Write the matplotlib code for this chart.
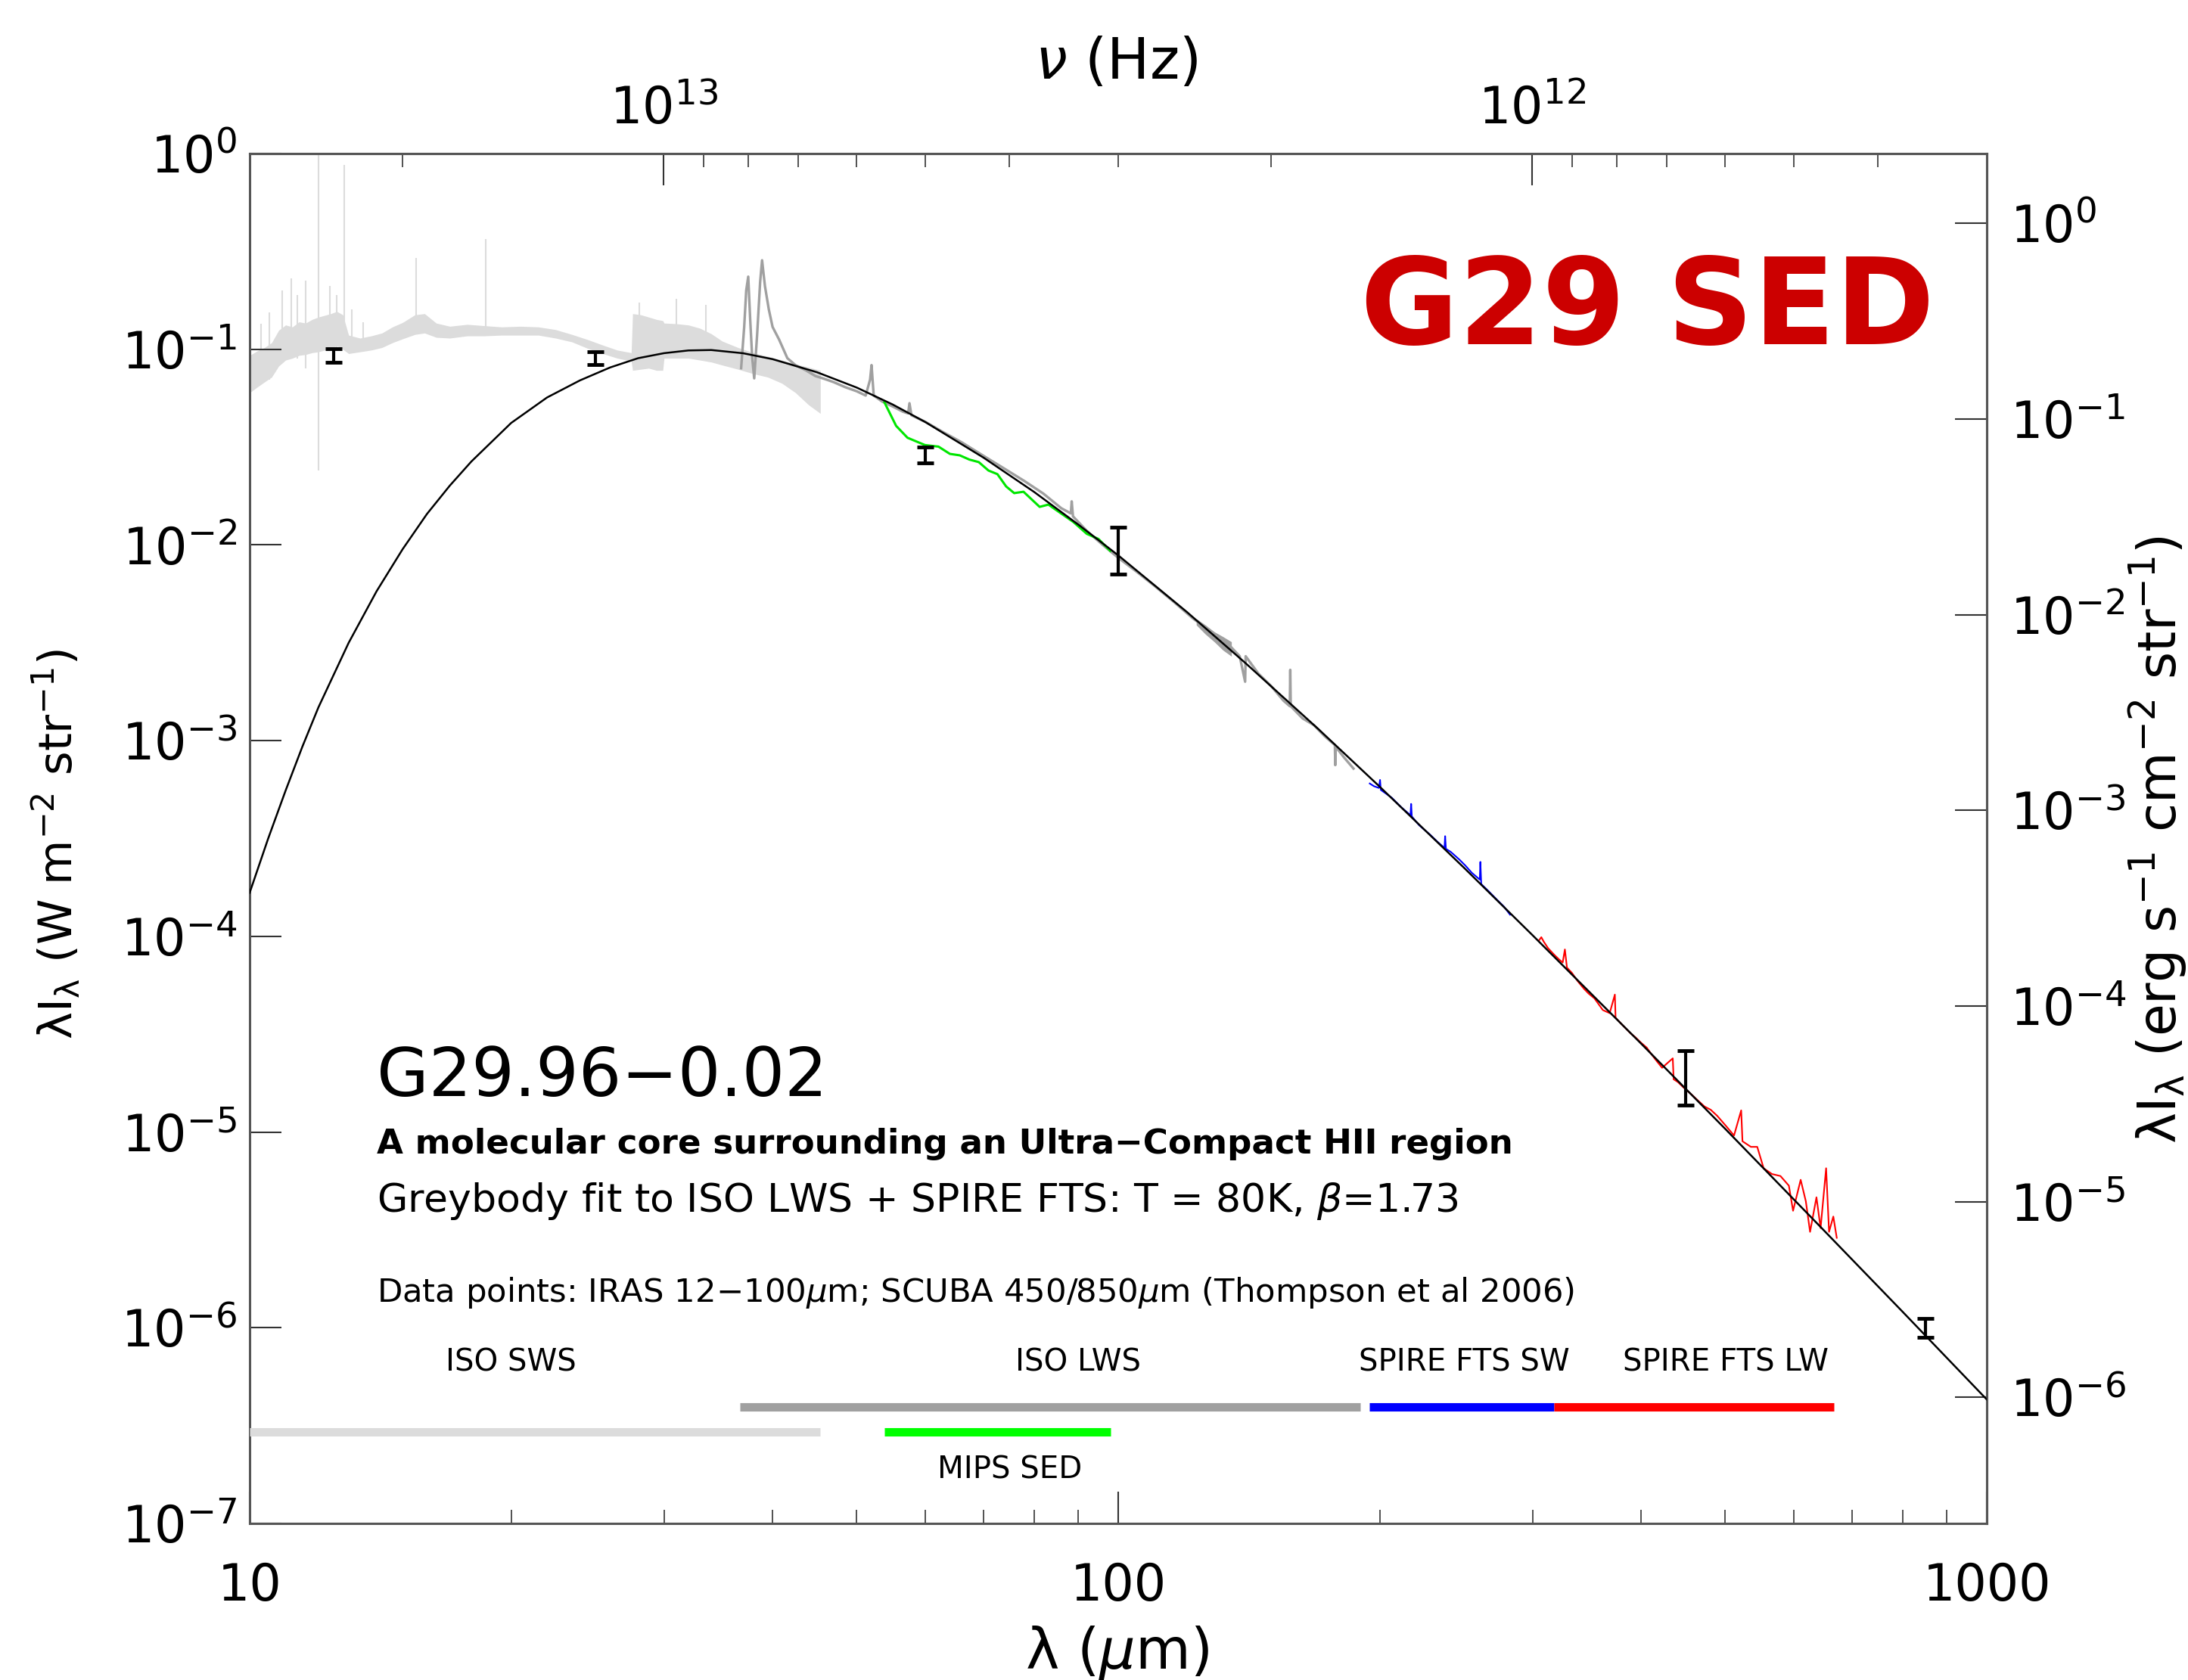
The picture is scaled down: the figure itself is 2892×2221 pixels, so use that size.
import numpy as np
import matplotlib
matplotlib.use('Agg')
import matplotlib.pyplot as plt
import matplotlib.ticker as ticker

plt.rcParams['font.family'] = 'DejaVu Sans'
plt.rcParams['mathtext.fontset'] = 'dejavusans'

# --- DATA ---
# greybody fit, T = 80K, beta = 1.73  (lambda in um, lambda*I_lambda in W m-2 sr-1)
FIT_WAVE = [10, 10.5, 11, 11.5, 12, 13, 14, 15, 16, 17, 18, 20, 22, 24, 26, 28, 30, 32, 34, 37,
            40, 45, 50, 55, 60, 70, 80, 90, 100, 120, 140, 170, 200, 250, 300, 400, 500, 650, 800, 1000]
FIT_FLUX = [1.67e-4, 3.15e-4, 5.56e-4, 9.32e-4, 1.48e-3, 3.16e-3, 5.80e-3, 9.51e-3, 1.44e-2, 2.01e-2,
            2.67e-2, 4.20e-2, 5.67e-2, 6.93e-2, 8.07e-2, 9.00e-2, 9.55e-2, 9.86e-2, 9.91e-2, 9.54e-2,
            8.90e-2, 7.63e-2, 6.37e-2, 5.22e-2, 4.24e-2, 2.79e-2, 1.867e-2, 1.269e-2, 8.85e-3, 4.54e-3,
            2.50e-3, 1.146e-3, 5.82e-4, 2.245e-4, 1.0125e-4, 2.83e-5, 1.037e-5, 3.13e-6, 1.207e-6, 4.30e-7]

# ISO SWS spectrum, drawn as a noisy band (upper / lower envelope)
SWS_WAVE = [10.0, 10.2, 10.4, 10.6, 10.8, 11.0, 11.2, 11.4, 11.6, 11.8, 12.0, 12.2, 12.4, 12.6, 12.8,
            13.0, 13.4, 13.8, 14.2, 14.6, 15.0, 15.5, 15.9, 16.4, 17.0, 17.8, 18.6, 19.5, 20.5, 21.5,
            22.5, 23.5, 24.5, 25.5, 26.5, 27.5, 27.6, 28.2, 28.8, 29.4, 29.9, 30.0, 31.0, 32.0, 33.0,
            34.0, 35.0, 36.5, 38.0, 39.5, 41.0, 42.5, 44.0, 45.4]
SWS_HIGH = [0.093, 0.098, 0.102, 0.108, 0.125, 0.133, 0.130, 0.138, 0.136, 0.142, 0.146, 0.149, 0.152,
            0.156, 0.150, 0.118, 0.114, 0.117, 0.121, 0.130, 0.137, 0.150, 0.152, 0.136, 0.131, 0.134,
            0.132, 0.130, 0.131, 0.130, 0.126, 0.119, 0.112, 0.105, 0.099, 0.096, 0.152, 0.150, 0.146,
            0.142, 0.140, 0.136, 0.135, 0.133, 0.128, 0.120, 0.110, 0.102, 0.096, 0.092, 0.088, 0.084,
            0.081, 0.078]
SWS_LOW = [0.060, 0.064, 0.068, 0.072, 0.082, 0.088, 0.090, 0.093, 0.094, 0.096, 0.097, 0.099, 0.101,
           0.104, 0.100, 0.095, 0.097, 0.099, 0.102, 0.108, 0.113, 0.119, 0.121, 0.115, 0.114, 0.117,
           0.117, 0.118, 0.118, 0.118, 0.114, 0.109, 0.101, 0.095, 0.090, 0.087, 0.078, 0.079, 0.080,
           0.078, 0.078, 0.090, 0.090, 0.090, 0.088, 0.086, 0.083, 0.079, 0.075, 0.072, 0.067, 0.060,
           0.052, 0.047]
# lines and glitches in the SWS spectrum
SWS_LINE_WAVE = [10.3, 10.53, 10.9, 11.16, 11.35, 11.61, 12.0, 12.37, 12.6, 12.85, 13.1, 13.52,
                 15.56, 18.71, 28.1, 31.0, 33.5]
SWS_LINE_TOP = [0.135, 0.154, 0.20, 0.23, 0.19, 0.224, 1.0, 0.21, 0.19, 0.875, 0.16, 0.137,
                0.292, 0.365, 0.173, 0.181, 0.169]
SWS_LINE_LOW = [0.07, 0.07, 0.085, 0.09, 0.09, 0.08, 0.024, 0.10, 0.10, 0.10, 0.095, 0.10,
                0.12, 0.12, 0.09, 0.09, 0.09]

# ISO LWS spectrum
LWS_WAVE = [36.8, 37.1, 37.3, 37.5, 37.7, 37.9, 38.1, 38.4, 38.7, 38.9, 39.2, 39.6, 40.0, 40.7, 41.6,
            42.5, 43.7, 44.8, 45.7, 47.0, 48.5, 50.0, 51.2, 51.8, 52.0, 52.3, 53.5, 55.0, 56.5, 57.3,
            57.5, 57.8, 60.0, 63.0, 66.0, 70.0, 74.0, 78.0, 82.0, 86.0, 88.2, 88.4, 88.7, 92.0, 96.0,
            100.0, 105.0, 110.0, 116.0, 122.0, 128.0, 134.0, 138.0, 140.0, 140.2, 145.0, 150.0, 155.0,
            157.6, 157.8, 158.0, 163.0, 168.0, 173.0, 177.6, 177.8, 178.0, 182.0, 186.6]
LWS_FLUX = [0.080, 0.13, 0.20, 0.235, 0.14, 0.090, 0.071, 0.12, 0.22, 0.285, 0.21, 0.16, 0.13, 0.112,
            0.090, 0.083, 0.078, 0.073, 0.071, 0.068, 0.064, 0.061, 0.058, 0.070, 0.083, 0.058, 0.054,
            0.051, 0.048, 0.047, 0.053, 0.046, 0.0425, 0.0375, 0.0335, 0.0285, 0.0245, 0.0212, 0.0183,
            0.0154, 0.0145, 0.0167, 0.0140, 0.0118, 0.0100, 0.0086, 0.0073, 0.0062, 0.0051, 0.0042,
            0.0036, 0.0031, 0.0027, 0.0020, 0.0027, 0.0022, 0.0019, 0.0016, 0.0015, 0.0023, 0.0015,
            0.0013, 0.0012, 0.00105, 0.00095, 0.00075, 0.00093, 0.00082, 0.00072]
LWS_BLOCK_WAVE = [123.0, 126.0, 129.0, 132.0, 135.0]
LWS_BLOCK_HIGH = [0.0042, 0.0039, 0.0036, 0.0034, 0.0032]
LWS_BLOCK_LOW = [0.0039, 0.0035, 0.0032, 0.0029, 0.0027]

# Spitzer MIPS SED
MIPS_WAVE = [53.8, 55.5, 57.2, 59.9, 62.1, 64.0, 65.7, 67.4, 69.1, 70.9, 72.6, 74.3, 75.9, 77.8,
             81.2, 83.1, 88.8, 92.0, 94.9, 97.9]
MIPS_FLUX = [0.0536, 0.0406, 0.0353, 0.0324, 0.0318, 0.0292, 0.0287, 0.0273, 0.0265, 0.0240, 0.0230,
             0.0199, 0.0184, 0.0187, 0.01565, 0.01608, 0.0131, 0.0114, 0.01073, 0.00933]

# SPIRE FTS short-wavelength array
SW_WAVE = [194.8, 197.0, 199.6, 200.2, 200.6, 206.5, 212.0, 217.0, 217.4, 217.8, 222.0, 228.4, 233.0,
           237.5, 237.9, 238.4, 241.5, 247.0, 251.0, 255.4, 260.8, 261.2, 261.8, 267.0, 273.3, 278.0,
           282.6]
SW_FLUX = [6.04e-4, 5.85e-4, 5.73e-4, 6.3e-4, 5.6e-4, 5.11e-4, 4.55e-4, 4.16e-4, 4.75e-4, 4.1e-4,
           3.7e-4, 3.32e-4, 3.05e-4, 2.83e-4, 3.25e-4, 2.8e-4, 2.70e-4, 2.47e-4, 2.3e-4, 2.11e-4,
           1.95e-4, 2.4e-4, 1.85e-4, 1.7e-4, 1.53e-4, 1.42e-4, 1.29e-4]

# SPIRE FTS long-wavelength array
LW_WAVE = [305.0, 307.0, 309.0, 312.6, 317.8, 322.0, 324.9, 326.8, 328.6, 333.0, 338.0, 343.7, 348.0,
           353.4, 361.4, 368.0, 373.1, 373.8, 380.0, 388.8, 394.0, 399.9, 406.0, 411.3, 417.0, 422.9,
           435.0, 436.0, 441.0, 447.5, 457.6, 465.0, 473.2, 481.0, 489.4, 500.4, 511.7, 521.5, 523.3,
           535.1, 544.2, 553.5, 565.9, 578.7, 591.8, 598.4, 610.6, 619.0, 626.0, 636.7, 643.7, 653.2,
           658.3, 665.8, 671.9]
LW_FLUX = [9.51e-5, 9.9e-5, 9.39e-5, 8.69e-5, 8.04e-5, 7.6e-5, 7.35e-5, 8.57e-5, 6.92e-5, 6.5e-5,
           5.91e-5, 5.40e-5, 5.1e-5, 4.82e-5, 4.20e-5, 4.05e-5, 5.04e-5, 3.84e-5, 3.55e-5, 3.20e-5,
           3.05e-5, 2.86e-5, 2.7e-5, 2.49e-5, 2.3e-5, 2.13e-5, 2.38e-5, 1.86e-5, 1.8e-5, 1.69e-5,
           1.55e-5, 1.45e-5, 1.35e-5, 1.3e-5, 1.21e-5, 1.08e-5, 9.6e-6, 1.29e-5, 8.97e-6, 8.4e-6,
           8.4e-6, 6.53e-6, 6.1e-6, 5.96e-6, 5.32e-6, 3.96e-6, 5.7e-6, 4.43e-6, 3.09e-6, 4.64e-6,
           3.23e-6, 6.53e-6, 3.09e-6, 3.70e-6, 2.88e-6]

# photometry: IRAS 12-100um, SCUBA 450/850um
PHOT_WAVE = [12.5, 25.0, 60.0, 100.0, 450.0, 850.0]
PHOT_FLUX = [0.0929, 0.0900, 0.0289, 0.00935, 1.89e-5, 1.0e-6]
PHOT_LOW = [0.0857, 0.0835, 0.0262, 0.0071, 1.37e-5, 8.9e-7]
PHOT_HIGH = [0.1007, 0.0970, 0.0316, 0.01232, 2.60e-5, 1.12e-6]

# wavelength coverage of each instrument
BAND_NAMES = ['ISO SWS', 'ISO LWS', 'MIPS SED', 'SPIRE FTS SW', 'SPIRE FTS LW']
BAND_START = [10.0, 36.7, 53.8, 194.5, 317.6]
BAND_END = [45.4, 189.9, 98.0, 317.6, 667.0]

X_TICKS = [10, 100, 1000]
X_TICK_LABELS = ['10', '100', '1000']
Y_TICKS = [1e0, 1e-1, 1e-2, 1e-3, 1e-4, 1e-5, 1e-6, 1e-7]
NU_TICKS = [1e12, 1e13]
NU_MINOR = [3e11, 4e11, 5e11, 6e11, 7e11, 8e11, 9e11, 2e12, 3e12, 4e12, 5e12, 6e12, 7e12, 8e12,
            9e12, 2e13, 3e13]
RIGHT_TICKS = [1e0, 1e-1, 1e-2, 1e-3, 1e-4, 1e-5, 1e-6]
RIGHT_SCALE = 2.27   # offset of the right-hand axis as drawn in the reference
C_UM_HZ = 2.998e14   # nu [Hz] = c / lambda[um]

# --- FIGURE ---
W, H = 2892, 2221
fig = plt.figure(figsize=(W / 100, H / 100), dpi=100)
ax = fig.add_axes([330 / W, 1 - 2014 / H, 2296 / W, 1811 / H])
ax.set_xscale('log')
ax.set_yscale('log')
ax.set_xlim(10, 1000)
ax.set_ylim(1e-7, 1e0)

GREY_L = '#DCDCDC'
GREY_D = '#A0A0A0'

# spectra
ax.fill_between(SWS_WAVE, SWS_LOW, SWS_HIGH, color=GREY_L, lw=0, zorder=1)
ax.vlines(SWS_LINE_WAVE, SWS_LINE_LOW, SWS_LINE_TOP, color=GREY_L, lw=1.5, zorder=1)
ax.fill_between(LWS_BLOCK_WAVE, LWS_BLOCK_LOW, LWS_BLOCK_HIGH, color=GREY_D, lw=0, zorder=2)
ax.plot(LWS_WAVE, LWS_FLUX, color=GREY_D, lw=2.4, zorder=2)
ax.plot(MIPS_WAVE, MIPS_FLUX, color='#00E600', lw=2.2, zorder=3)
ax.plot(SW_WAVE, SW_FLUX, color='#0000FF', lw=1.5, zorder=3)
ax.plot(LW_WAVE, LW_FLUX, color='#FF0000', lw=1.5, zorder=3)

# greybody fit
ax.plot(FIT_WAVE, FIT_FLUX, color='black', lw=1.8, zorder=4)

# photometry with error bars
flux = np.array(PHOT_FLUX)
yerr = [flux - np.array(PHOT_LOW), np.array(PHOT_HIGH) - flux]
ax.errorbar(PHOT_WAVE, flux, yerr=yerr, fmt='none', ecolor='black',
            elinewidth=3, capsize=8, capthick=3.5, zorder=5)

# coverage bars along the bottom
bar_colors = [GREY_L, GREY_D, '#00FF00', '#0000FF', '#FF0000']
bar_rows = [2.93e-7, 3.94e-7, 2.93e-7, 3.94e-7, 3.94e-7]
for x0, x1, yb, c in zip(BAND_START, BAND_END, bar_rows, bar_colors):
    ax.plot([x0, x1], [yb, yb], color=c, lw=8, solid_capstyle='butt', zorder=3)

label_pos = [(20.0, 6.6e-7), (90.0, 6.6e-7), (75.0, 1.88e-7), (250.0, 6.6e-7), (501.0, 6.6e-7)]
for name, (lx, ly) in zip(BAND_NAMES, label_pos):
    ax.text(lx, ly, name, ha='center', va='center', fontsize=29)

# axes styling
for sp in ax.spines.values():
    sp.set_color('#555555')
    sp.set_linewidth(2.2)

ax.xaxis.set_major_locator(ticker.FixedLocator(X_TICKS))
ax.xaxis.set_major_formatter(ticker.FixedFormatter(X_TICK_LABELS))
ax.xaxis.set_minor_locator(ticker.LogLocator(base=10, subs=np.arange(2, 10)))
ax.xaxis.set_minor_formatter(ticker.NullFormatter())
ax.yaxis.set_major_locator(ticker.FixedLocator(Y_TICKS))
ax.yaxis.set_minor_locator(ticker.NullLocator())

ax.tick_params(which='both', direction='in', top=False, right=False, color='#333333')
ax.tick_params(which='major', length=30, width=1.5, labelsize=48)
ax.tick_params(which='minor', length=13, width=1.2)
ax.tick_params(axis='x', which='major', pad=36)
ax.tick_params(axis='y', which='major', pad=12)

# frequency axis on top
secx = ax.secondary_xaxis('top', functions=(lambda lam: C_UM_HZ / lam, lambda nu: C_UM_HZ / nu))
secx.xaxis.set_major_locator(ticker.FixedLocator(NU_TICKS))
secx.xaxis.set_minor_locator(ticker.FixedLocator(NU_MINOR))
secx.xaxis.set_minor_formatter(ticker.NullFormatter())
secx.tick_params(which='both', direction='in', color='#333333')
secx.tick_params(which='major', length=30, width=1.5, labelsize=48, pad=18)
secx.tick_params(which='minor', length=13, width=1.2)
secx.spines['top'].set_color('#555555')
secx.spines['top'].set_linewidth(2.2)

# erg s-1 cm-2 axis on the right
secy = ax.secondary_yaxis('right', functions=(lambda y: y * RIGHT_SCALE, lambda y: y / RIGHT_SCALE))
secy.yaxis.set_major_locator(ticker.FixedLocator(RIGHT_TICKS))
secy.yaxis.set_minor_locator(ticker.NullLocator())
secy.tick_params(which='major', direction='in', length=30, width=1.5, color='#333333',
                 labelsize=48, pad=22)
secy.spines['right'].set_color('#555555')
secy.spines['right'].set_linewidth(2.2)

# axis titles
fig.text(1476 / W, 1 - 2186 / H, r'λ ($\mu$m)', ha='center', va='center', fontsize=54)
fig.text(1476 / W, 1 - 83 / H, r'$\nu$ (Hz)', ha='center', va='center', fontsize=54)
fig.text(74 / W, 1 - 1116 / H, r'λI$_{\mathregular{λ}}$ (W m$^{\mathregular{-2}}$ str$^{\mathregular{-1}}$)',
         ha='center', va='center', rotation=90, fontsize=44)
fig.text(2852 / W, 1 - 1110 / H,
         r'λI$_{\mathregular{λ}}$ (erg s$^{\mathregular{-1}}$ cm$^{\mathregular{-2}}$ str$^{\mathregular{-1}}$)',
         ha='center', va='center', rotation=90, fontsize=50)

# annotations
fig.text(0.753, 1 - 411 / H, 'G29 SED', ha='center', va='center', fontsize=114,
         fontweight='bold', color='#CC0000')
fig.text(498 / W, 1 - 1449 / H, 'G29.96\u22120.02', ha='left', va='baseline', fontsize=64)
fig.text(498 / W, 1 - 1525 / H, 'A molecular core surrounding an Ultra\u2212Compact HII region',
         ha='left', va='baseline', fontsize=32.5, fontweight='bold')
fig.text(498 / W, 1 - 1602 / H, r'Greybody fit to ISO LWS + SPIRE FTS: T = 80K, $\beta$=1.73',
         ha='left', va='baseline', fontsize=37.5)
fig.text(498 / W, 1 - 1721 / H,
         'Data points: IRAS 12\u2212100$\\mu$m; SCUBA 450/850$\\mu$m (Thompson et al 2006)',
         ha='left', va='baseline', fontsize=31.2)

fig.savefig('out.png', dpi=100)
